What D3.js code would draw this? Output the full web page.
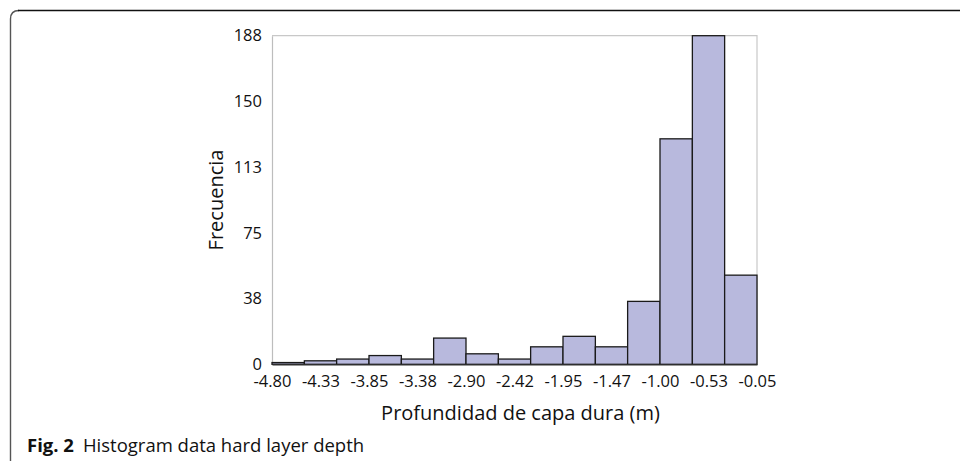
<!DOCTYPE html>
<html>
<head>
<meta charset="utf-8">
<script src="https://cdn.jsdelivr.net/npm/d3@7"></script>
<style>
  html, body { margin: 0; padding: 0; background: #fff; }
  svg { display: block; }
</style>
</head>
<body>
<svg id="chart" width="960" height="461"></svg>
<script>
// ---- data ----
const binEdges = [-4.800, -4.483, -4.167, -3.850, -3.533, -3.217, -2.900, -2.583,
                  -2.267, -1.950, -1.633, -1.317, -1.000, -0.683, -0.367, -0.050];
const counts = [1, 2, 3, 5, 3, 15, 6, 3, 10, 16, 10, 36, 129, 188, 51];
const xTickValues = [-4.80, -4.325, -3.85, -3.375, -2.90, -2.425, -1.95, -1.475, -1.00, -0.525, -0.05];
const xTickLabels = ["-4.80", "-4.33", "-3.85", "-3.38", "-2.90", "-2.42", "-1.95", "-1.47", "-1.00", "-0.53", "-0.05"];
const yTickValues = [0, 37.6, 75.2, 112.8, 150.4, 188];
const yTickLabels = ["0", "38", "75", "113", "150", "188"];
const xTitle = "Profundidad de capa dura (m)";
const yTitle = "Frecuencia";
const captionBold = "Fig. 2";
const captionText = "Histogram data hard layer depth";

(function () {
// ---- layout ----
const svg = d3.select("#chart");
const pL = 272, pR = 757, pT = 35.7, pB = 364.3;
const font = "'Open Sans', 'Noto Sans', sans-serif";

const x = d3.scaleLinear().domain([binEdges[0], binEdges[binEdges.length - 1]]).range([pL, pR]);
const y = d3.scaleLinear().domain([0, 188]).range([pB, pT]);

// outer figure border (rounded top-left corner)
svg.append("path")
  .attr("d", `M10.5,461 V19 Q10.5,10.5 19,10.5`)
  .attr("fill", "none").attr("stroke", "#555").attr("stroke-width", 1.4);
svg.append("path")
  .attr("d", `M18,10.5 H960`)
  .attr("fill", "none").attr("stroke", "#111").attr("stroke-width", 1.5);

// plot frame (top / right light grey)
svg.append("path")
  .attr("d", `M${pL},${pT} H${pR} V${pB}`)
  .attr("fill", "none").attr("stroke", "#c8c8c8").attr("stroke-width", 1.2);

// y axis
const yAxis = d3.axisLeft(y).tickValues(yTickValues)
  .tickFormat((d, i) => yTickLabels[i]).tickSize(0).tickPadding(10);
const gy = svg.append("g").attr("transform", `translate(${pL},0)`).call(yAxis);
gy.select(".domain").attr("stroke", "#bdbdbd").attr("stroke-width", 1.2);
gy.selectAll("text").attr("font-family", font).attr("font-size", 16.5).attr("fill", "#111");

// bars
const bars = counts.map((c, i) => ({ x0: binEdges[i], x1: binEdges[i + 1], c }));
svg.append("g").selectAll("rect").data(bars).join("rect")
  .attr("x", d => x(d.x0))
  .attr("y", d => y(d.c))
  .attr("width", d => x(d.x1) - x(d.x0))
  .attr("height", d => y(0) - y(d.c))
  .attr("fill", "#b8b9dd")
  .attr("stroke", "#1a1a1a")
  .attr("stroke-width", 1.3);

// x axis
const xAxis = d3.axisBottom(x).tickValues(xTickValues)
  .tickFormat((d, i) => xTickLabels[i]).tickSize(0).tickPadding(11);
const gx = svg.append("g").attr("transform", `translate(0,${pB})`).call(xAxis);
gx.select(".domain").attr("stroke", "#333").attr("stroke-width", 1.3);
gx.selectAll("text").attr("font-family", font).attr("font-size", 16.5).attr("fill", "#111");

// axis titles
svg.append("text")
  .attr("x", (pL + pR) / 2 + 6).attr("y", 420)
  .attr("text-anchor", "middle")
  .attr("font-family", font).attr("font-size", 20).attr("fill", "#111")
  .text(xTitle);
svg.append("text")
  .attr("transform", `translate(223,${(pT + pB) / 2}) rotate(-90)`)
  .attr("text-anchor", "middle")
  .attr("font-family", font).attr("font-size", 20).attr("fill", "#111")
  .text(yTitle);

// caption
const cap = svg.append("text")
  .attr("x", 27).attr("y", 452)
  .attr("font-family", font).attr("font-size", 18.5).attr("fill", "#111");
cap.append("tspan").attr("font-weight", 700).text(captionBold);
cap.append("tspan").attr("dx", 9).text(captionText);
})();
</script>
</body>
</html>
